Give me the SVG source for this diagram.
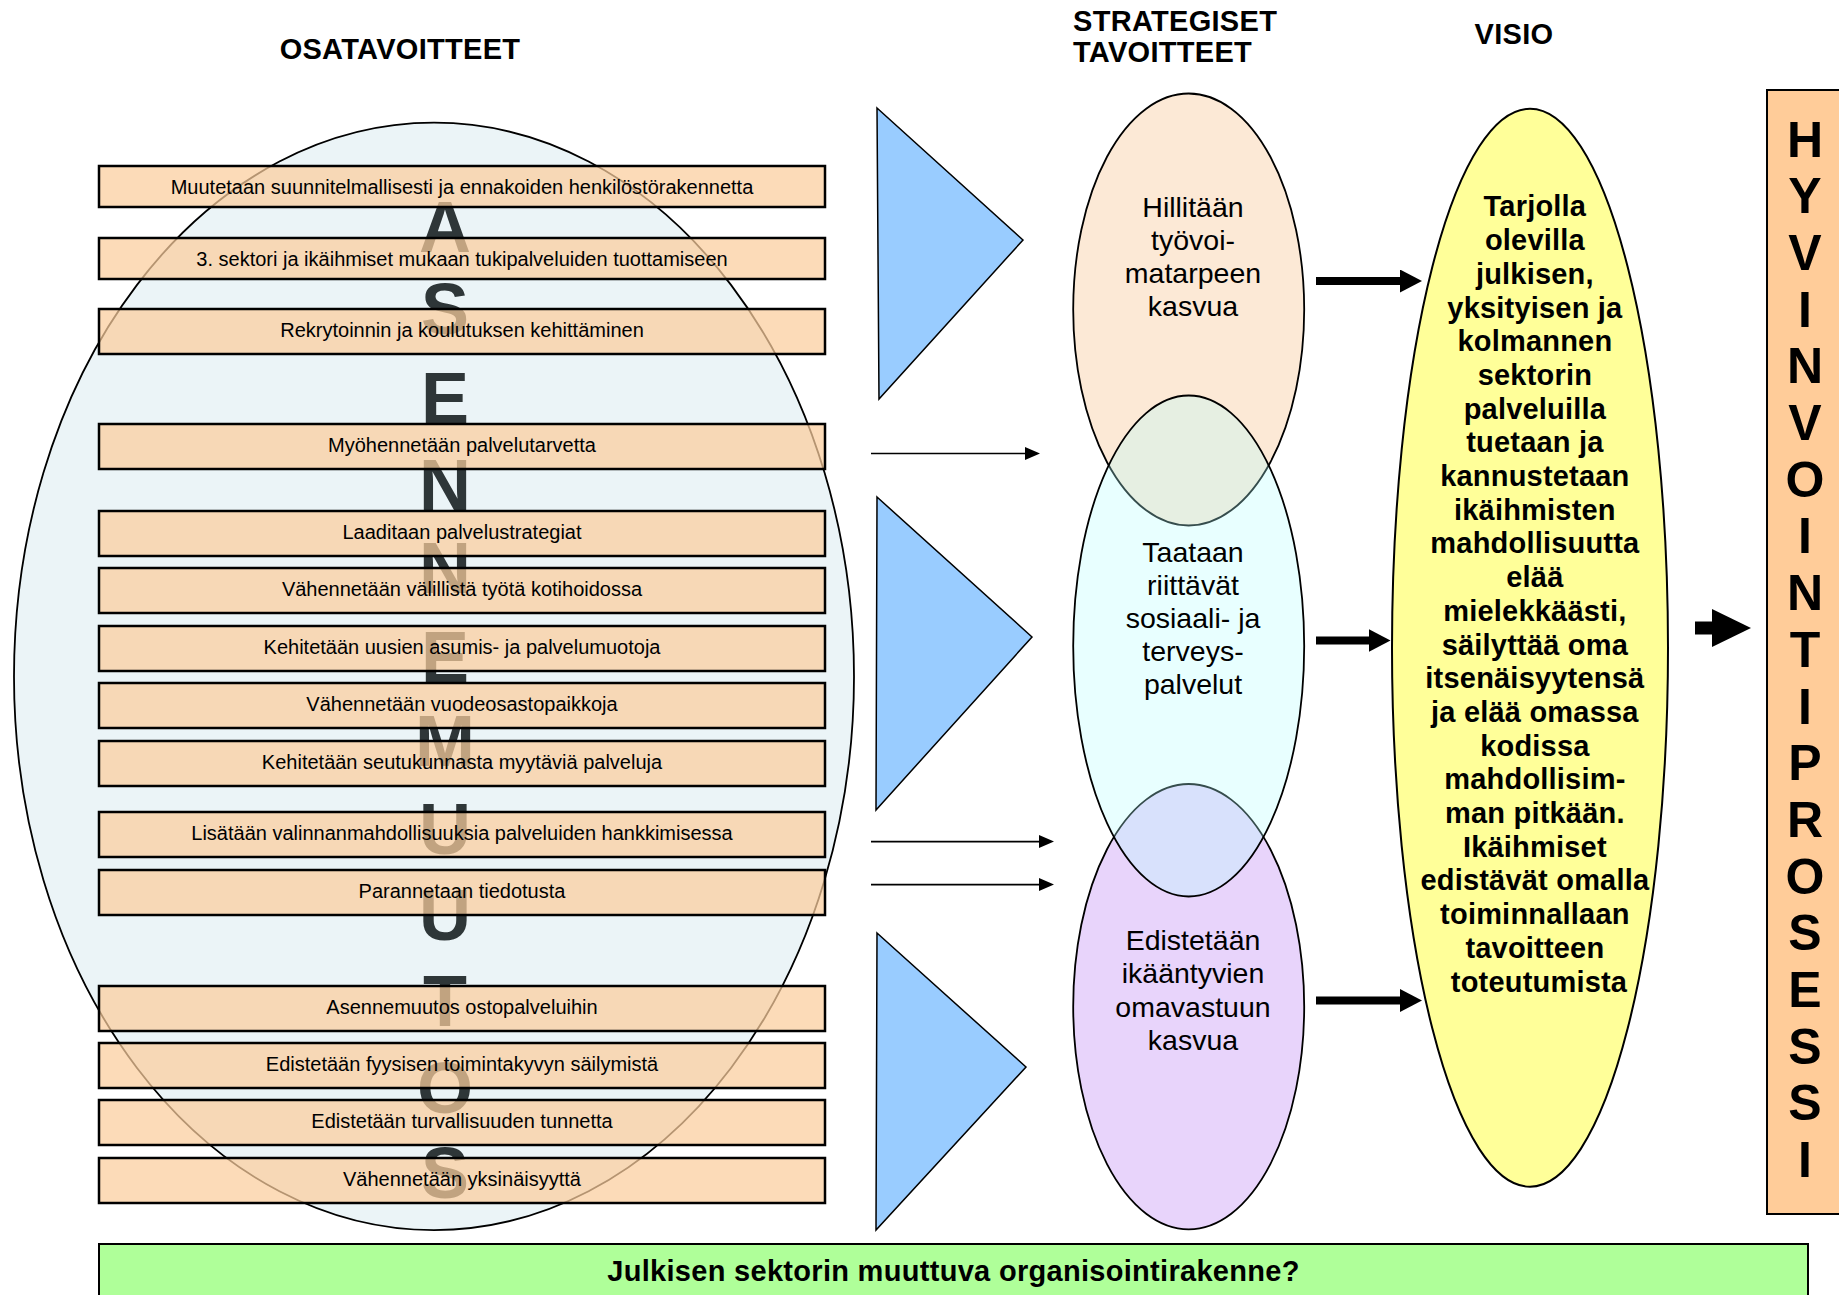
<svg xmlns="http://www.w3.org/2000/svg" width="1839" height="1295" viewBox="0 0 1839 1295">
<style>
.head{font-family:"Liberation Sans",Arial,sans-serif;font-weight:bold;font-size:29px;fill:#000;letter-spacing:0.3px}
.box{fill:#FBCD9C;fill-opacity:0.72;stroke:#000;stroke-width:2.5}
.bt{font-family:"Liberation Sans",Arial,sans-serif;font-size:20px;fill:#000;text-anchor:middle}
.big{font-family:"Liberation Sans",Arial,sans-serif;font-weight:bold;font-size:72px;fill:#2E3638;text-anchor:middle}
.tri{fill:#99CCFF;stroke:#000;stroke-width:1.5}
.et{font-family:"Liberation Sans",Arial,sans-serif;font-size:28.5px;fill:#000;text-anchor:middle}
.vt{font-family:"Liberation Sans",Arial,sans-serif;font-weight:bold;font-size:29px;fill:#000;text-anchor:middle;letter-spacing:0.2px}
.hv{font-family:"Liberation Sans",Arial,sans-serif;font-weight:bold;font-size:50px;fill:#000;text-anchor:middle}
.thin{stroke:#000;stroke-width:1.6;fill:none}
.thick{stroke:#000;stroke-width:8;fill:none}
</style>
<defs>
<marker id="mThin" markerUnits="userSpaceOnUse" markerWidth="16" markerHeight="14" refX="1" refY="6.5" orient="auto"><path d="M0,0 L15,6.5 L0,13 z" fill="#000"/></marker>
<marker id="mThick" markerUnits="userSpaceOnUse" markerWidth="23" markerHeight="24" refX="1" refY="11.5" orient="auto"><path d="M0,0 L22,11.5 L0,23 z" fill="#000"/></marker>
<marker id="mBig" markerUnits="userSpaceOnUse" markerWidth="40" markerHeight="39" refX="1" refY="19" orient="auto"><path d="M0,0 L39,19 L0,38 z" fill="#000"/></marker>
</defs>
<rect width="1839" height="1295" fill="#fff"/>

<g id="headings">
<text class="head" x="400" y="58.5" text-anchor="middle">OSATAVOITTEET</text>
<text class="head" x="1073" y="30.6">STRATEGISET</text>
<text class="head" x="1073" y="62.4">TAVOITTEET</text>
<text class="head" x="1514" y="43.5" text-anchor="middle">VISIO</text>
</g>

<g id="asennemuutos">
<ellipse cx="434" cy="676.4" rx="420" ry="553.7" fill="#EBF4F7" stroke="#000" stroke-width="1.8"/>
<text class="big" x="445" y="251.5">A</text>
<text class="big" x="445" y="333.5">S</text>
<text class="big" x="445" y="423.3">E</text>
<text class="big" x="445" y="510">N</text>
<text class="big" x="445" y="593.3">N</text>
<text class="big" x="445" y="681.7">E</text>
<text class="big" x="445" y="766">M</text>
<text class="big" x="445" y="854">U</text>
<text class="big" x="445" y="940">U</text>
<text class="big" x="445" y="1026.4">T</text>
<text class="big" x="445" y="1112.5">O</text>
<text class="big" x="445" y="1197.5">S</text>
</g>

<g id="osatavoitteet">
<g id="o1"><rect class="box" x="99" y="166" width="726" height="41"/><text class="bt" x="462" y="194">Muutetaan suunnitelmallisesti ja ennakoiden henkilöstörakennetta</text></g>
<g id="o2"><rect class="box" x="99" y="238" width="726" height="41"/><text class="bt" x="462" y="265.5">3. sektori ja ikäihmiset mukaan tukipalveluiden tuottamiseen</text></g>
<g id="o3"><rect class="box" x="99" y="309" width="726" height="45"/><text class="bt" x="462" y="337">Rekrytoinnin ja koulutuksen kehittäminen</text></g>
<g id="o4"><rect class="box" x="99" y="424" width="726" height="45"/><text class="bt" x="462" y="452">Myöhennetään palvelutarvetta</text></g>
<g id="o5"><rect class="box" x="99" y="511" width="726" height="45"/><text class="bt" x="462" y="539">Laaditaan palvelustrategiat</text></g>
<g id="o6"><rect class="box" x="99" y="568" width="726" height="45"/><text class="bt" x="462" y="596">Vähennetään välillistä työtä kotihoidossa</text></g>
<g id="o7"><rect class="box" x="99" y="626" width="726" height="45"/><text class="bt" x="462" y="654">Kehitetään uusien asumis- ja palvelumuotoja</text></g>
<g id="o8"><rect class="box" x="99" y="683" width="726" height="45"/><text class="bt" x="462" y="711">Vähennetään vuodeosastopaikkoja</text></g>
<g id="o9"><rect class="box" x="99" y="741" width="726" height="45"/><text class="bt" x="462" y="769">Kehitetään seutukunnasta myytäviä palveluja</text></g>
<g id="o10"><rect class="box" x="99" y="812" width="726" height="45"/><text class="bt" x="462" y="840">Lisätään valinnanmahdollisuuksia palveluiden hankkimisessa</text></g>
<g id="o11"><rect class="box" x="99" y="870" width="726" height="45"/><text class="bt" x="462" y="898">Parannetaan tiedotusta</text></g>
<g id="o12"><rect class="box" x="99" y="986" width="726" height="45"/><text class="bt" x="462" y="1014">Asennemuutos ostopalveluihin</text></g>
<g id="o13"><rect class="box" x="99" y="1043" width="726" height="45"/><text class="bt" x="462" y="1071">Edistetään fyysisen toimintakyvyn säilymistä</text></g>
<g id="o14"><rect class="box" x="99" y="1100" width="726" height="45"/><text class="bt" x="462" y="1128">Edistetään turvallisuuden tunnetta</text></g>
<g id="o15"><rect class="box" x="99" y="1158" width="726" height="45"/><text class="bt" x="462" y="1186">Vähennetään yksinäisyyttä</text></g>
</g>

<g id="triangles">
<polygon class="tri" points="877,108 1023,240 879,399"/>
<polygon class="tri" points="877,497 1032,637 876,810"/>
<polygon class="tri" points="877,933 1026,1067 876,1230"/>
</g>

<g id="strategiset">
<g id="s1"><ellipse cx="1188.7" cy="309.5" rx="115.5" ry="216" fill="#FCE9D6" stroke="#000" stroke-width="1.8"/>
<text class="et"><tspan x="1193" y="216.5">Hillitään</tspan><tspan x="1193" y="249.5">työvoi-</tspan><tspan x="1193" y="282.5">matarpeen</tspan><tspan x="1193" y="315.5">kasvua</tspan></text></g>
<g id="s3"><ellipse cx="1188.7" cy="1006.7" rx="115.5" ry="222.7" fill="#E8D4FB" stroke="#000" stroke-width="1.8"/>
<text class="et"><tspan x="1193" y="950">Edistetään</tspan><tspan x="1193" y="983.3">ikääntyvien</tspan><tspan x="1193" y="1016.6">omavastuun</tspan><tspan x="1193" y="1050">kasvua</tspan></text></g>
<g id="s2"><ellipse cx="1188.7" cy="646" rx="115.5" ry="250.5" fill="#B2FFFF" fill-opacity="0.3" stroke="#000" stroke-width="1.8"/>
<text class="et"><tspan x="1193" y="562">Taataan</tspan><tspan x="1193" y="595">riittävät</tspan><tspan x="1193" y="628">sosiaali- ja</tspan><tspan x="1193" y="661">terveys-</tspan><tspan x="1193" y="694">palvelut</tspan></text></g>
</g>

<g id="visio">
<ellipse cx="1530" cy="647.7" rx="138" ry="539" fill="#FFFF99" stroke="#000" stroke-width="2"/>
<text class="vt">
<tspan x="1539" y="216.4">Tarjolla</tspan>
<tspan x="1539" dy="33.7">olevilla</tspan>
<tspan x="1539" dy="33.7">julkisen,</tspan>
<tspan x="1539" dy="33.7">yksityisen ja</tspan>
<tspan x="1539" dy="33.7">kolmannen</tspan>
<tspan x="1539" dy="33.7">sektorin</tspan>
<tspan x="1539" dy="33.7">palveluilla</tspan>
<tspan x="1539" dy="33.7">tuetaan ja</tspan>
<tspan x="1539" dy="33.7">kannustetaan</tspan>
<tspan x="1539" dy="33.7">ikäihmisten</tspan>
<tspan x="1539" dy="33.7">mahdollisuutta</tspan>
<tspan x="1539" dy="33.7">elää</tspan>
<tspan x="1539" dy="33.7">mielekkäästi,</tspan>
<tspan x="1539" dy="33.7">säilyttää oma</tspan>
<tspan x="1539" dy="33.7">itsenäisyytensä</tspan>
<tspan x="1539" dy="33.7">ja elää omassa</tspan>
<tspan x="1539" dy="33.7">kodissa</tspan>
<tspan x="1539" dy="33.7">mahdollisim-</tspan>
<tspan x="1539" dy="33.7">man pitkään.</tspan>
<tspan x="1539" dy="33.7">Ikäihmiset</tspan>
<tspan x="1539" dy="33.7">edistävät omalla</tspan>
<tspan x="1539" dy="33.7">toiminnallaan</tspan>
<tspan x="1539" dy="33.7">tavoitteen</tspan>
<tspan x="1539" dy="33.7">toteutumista</tspan>
</text>
</g>

<g id="hyvinvointiprosessi">
<rect x="1767" y="90" width="80" height="1124" fill="#FFCC99" stroke="#000" stroke-width="2"/>
<text class="hv">
<tspan x="1805" y="156.7">H</tspan><tspan x="1805" dy="56.68">Y</tspan><tspan x="1805" dy="56.68">V</tspan><tspan x="1805" dy="56.68">I</tspan><tspan x="1805" dy="56.68">N</tspan><tspan x="1805" dy="56.68">V</tspan><tspan x="1805" dy="56.68">O</tspan><tspan x="1805" dy="56.68">I</tspan><tspan x="1805" dy="56.68">N</tspan><tspan x="1805" dy="56.68">T</tspan><tspan x="1805" dy="56.68">I</tspan><tspan x="1805" dy="56.68">P</tspan><tspan x="1805" dy="56.68">R</tspan><tspan x="1805" dy="56.68">O</tspan><tspan x="1805" dy="56.68">S</tspan><tspan x="1805" dy="56.68">E</tspan><tspan x="1805" dy="56.68">S</tspan><tspan x="1805" dy="56.68">S</tspan><tspan x="1805" dy="56.68">I</tspan>
</text>
</g>

<g id="organisointi">
<rect x="99" y="1244" width="1709" height="70" fill="#AFFF99" stroke="#000" stroke-width="2"/>
<text class="head" x="953.5" y="1281" text-anchor="middle">Julkisen sektorin muuttuva organisointirakenne?</text>
</g>

<g id="connectors">
<line class="thin" x1="871" y1="453.5" x2="1026" y2="453.5" marker-end="url(#mThin)"/>
<line class="thin" x1="871" y1="841.6" x2="1040" y2="841.6" marker-end="url(#mThin)"/>
<line class="thin" x1="871" y1="884.6" x2="1040" y2="884.6" marker-end="url(#mThin)"/>
<line class="thick" x1="1316" y1="281" x2="1401" y2="281" marker-end="url(#mThick)"/>
<line class="thick" x1="1316" y1="640.5" x2="1369.5" y2="640.5" marker-end="url(#mThick)"/>
<line class="thick" x1="1316" y1="1000.5" x2="1401" y2="1000.5" marker-end="url(#mThick)"/>
<line x1="1695" y1="628" x2="1713" y2="628" stroke="#000" stroke-width="13" marker-end="url(#mBig)"/>
</g>
</svg>
